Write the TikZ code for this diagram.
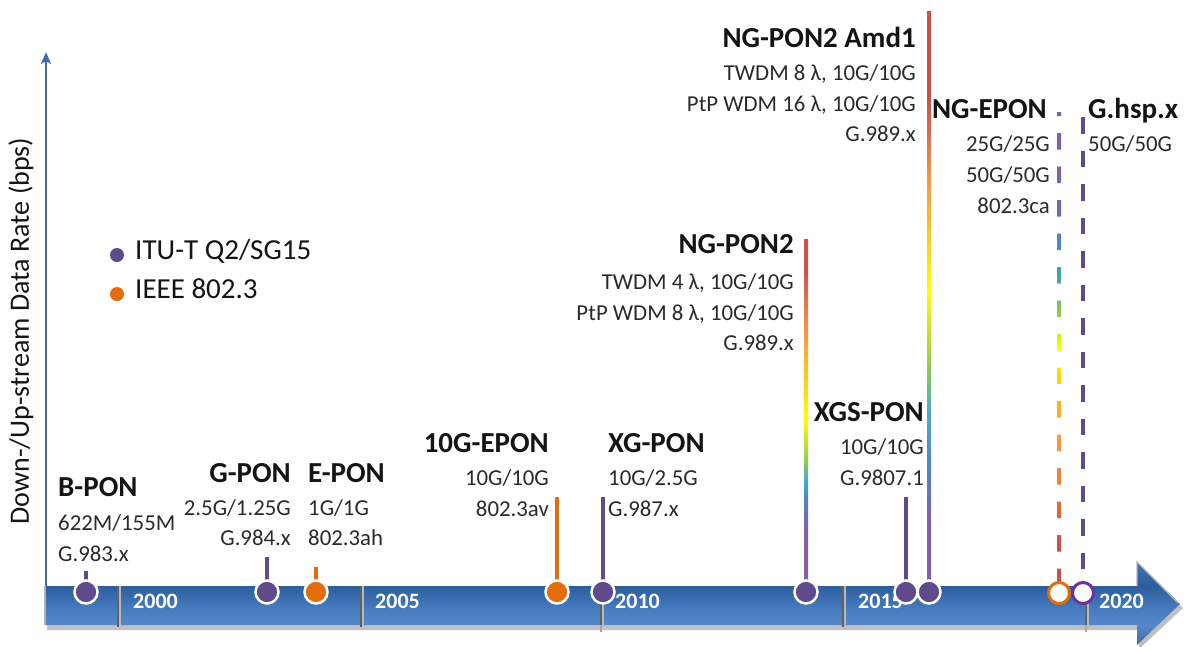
\documentclass[tikz,border=0pt]{standalone}
\usepackage{fontspec}
\setmainfont{Carlito}
\usetikzlibrary{arrows.meta,calc}

\definecolor{itu}{HTML}{5F4B8B}
\definecolor{ituring}{HTML}{7030A0}
\definecolor{ieee}{HTML}{E46C0A}
\definecolor{axisblue}{HTML}{3D6DAE}
\definecolor{txt}{HTML}{141414}
\definecolor{txtsub}{HTML}{2A2A2A}
\definecolor{gpurple}{HTML}{7E62A8}
\definecolor{gblue}{HTML}{4F86C4}
\definecolor{gcyan}{HTML}{4BACC6}
\definecolor{ggreen}{HTML}{96C850}
\definecolor{gyellow}{HTML}{FFFF00}
\definecolor{ggold}{HTML}{FFD200}
\definecolor{gamber}{HTML}{FFB020}
\definecolor{gorange}{HTML}{F79646}
\definecolor{gorred}{HTML}{E8703A}
\definecolor{gred}{HTML}{C9504B}
\definecolor{gteal}{HTML}{3FA9A8}
\definecolor{gviolet}{HTML}{6A6DB5}
\definecolor{bandtop}{HTML}{2D5E9C}
\definecolor{bandmid}{HTML}{4479BD}
\definecolor{bandlow}{HTML}{5689CB}
\definecolor{headtop}{HTML}{3F73B6}
\definecolor{headlow}{HTML}{386BAC}

% rainbow fades for the wavelength-stacked generations (bottom = 0bp, top = 100bp)
\pgfdeclareverticalshading{ngpontwo}{100bp}{color(0bp)=(gpurple); color(25bp)=(gpurple);
  color(33.8bp)=(gpurple); color(38.5bp)=(gblue); color(41bp)=(gcyan); color(43.5bp)=(ggreen);
  color(49.4bp)=(gyellow); color(62bp)=(gorange); color(71bp)=(gred); color(100bp)=(gred)}
\pgfdeclareverticalshading{ngpontwoamd}{100bp}{color(0bp)=(gpurple); color(25bp)=(gpurple);
  color(31bp)=(gpurple); color(36bp)=(gblue); color(40.4bp)=(gcyan); color(44.4bp)=(ggreen);
  color(50.8bp)=(gyellow); color(60.5bp)=(gorange); color(67.5bp)=(gred); color(100bp)=(gred)}
\pgfdeclareverticalshading{ngepon}{100bp}{color(0bp)=(gred); color(29bp)=(gred);
  color(33.5bp)=(gorred); color(39.5bp)=(gorange); color(43.5bp)=(gamber); color(46.5bp)=(ggold);
  color(50bp)=(gyellow); color(53.5bp)=(ggreen); color(57.5bp)=(gteal); color(61bp)=(gblue);
  color(64.5bp)=(gviolet); color(68.5bp)=(gpurple); color(100bp)=(gpurple)}
% timeline arrow body
\pgfdeclareverticalshading{bandshade}{100bp}{color(0bp)=(headlow); color(25bp)=(headlow);
  color(37bp)=(bandlow); color(48bp)=(bandmid); color(60.5bp)=(bandtop); color(75bp)=(headtop);
  color(100bp)=(headtop)}

\begin{document}
\begin{tikzpicture}[x=1pt,y=-1pt,
  stem/.style={line width=4pt},
  dot/.style={circle, inner sep=0pt, minimum size=23pt, draw=white, line width=2.5pt, fill=#1},
  ring/.style={circle, inner sep=0pt, minimum size=21pt, draw=#1, line width=3pt, fill=white},
  title/.style={font=\fontsize{29}{31}\selectfont\bfseries, text=txt, inner sep=0pt},
  sub/.style={font=\fontsize{22.8}{25}\selectfont, text=txtsub, inner sep=0pt},
  year/.style={font=\fontsize{22}{24}\selectfont\bfseries, text=white, inner sep=0pt, anchor=mid west},
  legdot/.style={circle, inner sep=0pt, minimum size=14pt, fill=#1},
  legtxt/.style={font=\fontsize{29}{32}\selectfont, text=txt, inner sep=0pt, anchor=mid west},
  divider/.style={draw=black!62, line width=1.8pt},
  bevel/.style={draw=black!30, line width=1.4pt},
]
\useasboundingbox (0,0) rectangle (1189,646);

% ---------- vertical axis ----------
\coordinate (yaxis-base) at (46,587);
\coordinate (yaxis-tip) at (46,52);
\draw[axisblue, line width=2pt, -{Stealth[length=12pt,width=10pt,inset=3pt]}] (yaxis-base) -- (yaxis-tip);
\node[rotate=90, font=\fontsize{28}{30}\selectfont, text=txt, inner sep=0pt] (ylabel) at (21,331)
  {Down-/Up-stream Data Rate (bps)};

% ---------- legend ----------
\node[legdot=itu] (leg-itu-dot) at (117,255) {};
\node[legtxt] (leg-itu) at (135,257) {ITU-T Q2/SG15};
\node[legdot=ieee] (leg-ieee-dot) at (117,294) {};
\node[legtxt] (leg-ieee) at (135,296) {IEEE 802.3};

% ---------- timeline arrow ----------
\fill[black!45, opacity=0.55] (47,590) -- (1139,590) -- (1139,566) -- (1183,608) -- (1139,649)
  -- (1139,630) -- (47,630) -- cycle;
\shade[shading=bandshade] (45,586) -- (1137,586) -- (1137,562) -- (1180,604) -- (1137,645)
  -- (1137,625) -- (45,625) -- cycle;
\draw[bevel] (1137,586) -- (1137,562) -- (1178,603);
\draw[bevel] (45,625) -- (45,586);
\foreach \x in {118,361,601,843,1086}{
  \draw[black!28, line width=1.4pt] (\x+2,586) -- (\x+2,625);
  \draw[divider] (\x,586) -- (\x,627);
}
\draw[black!35, line width=1.2pt] (601,625) -- (601,632);
\draw[black!35, line width=1.2pt] (1086,625) -- (1086,632);

\node[year] (y2000) at (133,606) {2000};
\node[year] (y2005) at (375,606) {2005};
\node[year] (y2010) at (615,606) {2010};
\node[year] (y2015) at (858,606) {2015};
\node[year] (y2020) at (1099,606) {2020};

% ---------- anchor points of the standards ----------
\coordinate (bpon-c) at (86,592);     \coordinate (bpon-top) at (86,571);
\coordinate (gpon-c) at (267,592);    \coordinate (gpon-top) at (267,557);
\coordinate (epon-c) at (316,592);    \coordinate (epon-top) at (316,567);
\coordinate (tgepon-c) at (557,592);  \coordinate (tgepon-top) at (557,497);
\coordinate (xgpon-c) at (603,592);   \coordinate (xgpon-top) at (603,497);
\coordinate (ngpon2-c) at (806,592);  \coordinate (ngpon2-top) at (806,239);
\coordinate (xgspon-c) at (906,592);  \coordinate (xgspon-top) at (906,497);
\coordinate (amd1-c) at (929,592);    \coordinate (amd1-top) at (929,11);
\coordinate (ngepon-c) at (1059,593); \coordinate (ngepon-top) at (1059,112);
\coordinate (ghsp-c) at (1083,593);   \coordinate (ghsp-top) at (1083,117);

% ---------- stems ----------
\draw[stem, itu] (bpon-top) -- (bpon-c);
\draw[stem, itu] (gpon-top) -- (gpon-c);
\draw[stem, ieee] (epon-top) -- (epon-c);
\draw[stem, ieee] (tgepon-top) -- (tgepon-c);
\draw[stem, itu] (xgpon-top) -- (xgpon-c);
\draw[stem, itu] (xgspon-top) -- (xgspon-c);
\shade[shading=ngpontwo] ($(ngpon2-top)+(-2,0)$) rectangle ($(ngpon2-c)+(2,0)$);
\shade[shading=ngpontwoamd] ($(amd1-top)+(-2,0)$) rectangle ($(amd1-c)+(2,0)$);

% NG-EPON: dashed rainbow
\begin{scope}
  \clip (1057,112) rectangle (1061,581);
  \clip \foreach \k in {0,...,14}{ (1057,99.5+33.5*\k) rectangle (1061,116+33.5*\k) };
  \shade[shading=ngepon] (1057,112) rectangle (1061,581);
\end{scope}
% G.hsp.x: dashed purple
\draw[itu, line width=4pt, dash pattern=on 16.5pt off 17pt] (ghsp-top) -- (ghsp-c);

% ---------- markers on the timeline ----------
\node[dot=itu] (bpon-dot) at (bpon-c) {};
\node[dot=itu] (gpon-dot) at (gpon-c) {};
\node[dot=ieee] (epon-dot) at (epon-c) {};
\node[dot=ieee] (tgepon-dot) at (tgepon-c) {};
\node[dot=itu] (xgpon-dot) at (xgpon-c) {};
\node[dot=itu] (ngpon2-dot) at (ngpon2-c) {};
\node[dot=itu] (xgspon-dot) at (xgspon-c) {};
\node[dot=itu] (amd1-dot) at (amd1-c) {};
\node[ring=ieee] (ngepon-dot) at (ngepon-c) {};
\node[ring=ituring] (ghsp-dot) at (ghsp-c) {};

% ---------- labels ----------
\node[title, anchor=mid west] (bpon-t) at (58,494) {B-PON};
\node[sub, anchor=mid west] (bpon-a) at (58,528) {622M/155M};
\node[sub, anchor=mid west] (bpon-b) at (58,559) {G.983.x};

\node[title, anchor=mid east] (gpon-t) at (291,480) {G-PON};
\node[sub, anchor=mid east] (gpon-a) at (291,513) {2.5G/1.25G};
\node[sub, anchor=mid east] (gpon-b) at (291,543) {G.984.x};

\node[title, anchor=mid west] (epon-t) at (308,480) {E-PON};
\node[sub, anchor=mid west] (epon-a) at (308,513) {1G/1G};
\node[sub, anchor=mid west] (epon-b) at (308,543) {802.3ah};

\node[title, anchor=mid east] (tgepon-t) at (549,450) {10G-EPON};
\node[sub, anchor=mid east] (tgepon-a) at (549,483) {10G/10G};
\node[sub, anchor=mid east] (tgepon-b) at (549,514) {802.3av};

\node[title, anchor=mid west] (xgpon-t) at (608,450) {XG-PON};
\node[sub, anchor=mid west] (xgpon-a) at (608,483) {10G/2.5G};
\node[sub, anchor=mid west] (xgpon-b) at (608,514) {G.987.x};

\node[title, anchor=mid east] (ngpon2-t) at (794,251) {NG-PON2};
\node[sub, anchor=mid east] (ngpon2-a) at (794,287) {TWDM 4 λ, 10G/10G};
\node[sub, anchor=mid east] (ngpon2-b) at (794,318) {PtP WDM 8 λ, 10G/10G};
\node[sub, anchor=mid east] (ngpon2-c2) at (794,348) {G.989.x};

\node[title, anchor=mid east] (xgspon-t) at (924,419) {XGS-PON};
\node[sub, anchor=mid east] (xgspon-a) at (924,452) {10G/10G};
\node[sub, anchor=mid east] (xgspon-b) at (924,483) {G.9807.1};

\node[title, anchor=mid east] (amd1-t) at (916,45) {NG-PON2 Amd1};
\node[sub, anchor=mid east] (amd1-a) at (916,78) {TWDM 8 λ, 10G/10G};
\node[sub, anchor=mid east] (amd1-b) at (916,109) {PtP WDM 16 λ, 10G/10G};
\node[sub, anchor=mid east] (amd1-c2) at (916,139) {G.989.x};

\node[title, anchor=mid east] (ngepon-t) at (1047,116) {NG-EPON};
\node[sub, anchor=mid east] (ngepon-a) at (1050,149) {25G/25G};
\node[sub, anchor=mid east] (ngepon-b) at (1050,180) {50G/50G};
\node[sub, anchor=mid east] (ngepon-d) at (1050,211) {802.3ca};

\node[title, anchor=mid west] (ghsp-t) at (1088,116) {G.hsp.x};
\node[sub, anchor=mid west] (ghsp-a) at (1088,149) {50G/50G};
\end{tikzpicture}
\end{document}
